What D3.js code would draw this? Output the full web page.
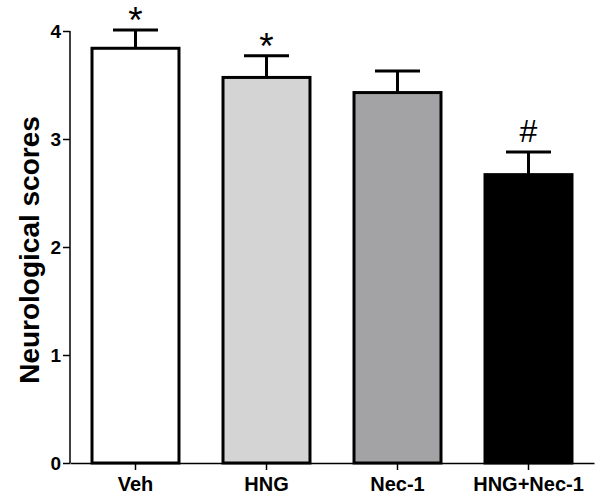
<!DOCTYPE html>
<html><head><meta charset="utf-8">
<script src="https://cdn.jsdelivr.net/npm/d3@7"></script>
<style>body{margin:0;background:#fff}svg{display:block}</style>
</head><body>
<svg id="c" width="602" height="500"></svg>
<script>
const categories = ["Veh", "HNG", "Nec-1", "HNG+Nec-1"];
const means = [3.84, 3.57, 3.43, 2.67];
const sems = [0.17, 0.20, 0.20, 0.21];
const marks = ["*", "*", "", "#"];
const fills = ["#ffffff", "#d4d4d4", "#a3a3a6", "#000000"];
const yTicks = [0, 1, 2, 3, 4];

const svg = d3.select("#c");
const x = d3.scaleBand().domain(categories).range([70, 594]).paddingInner(0.336).paddingOuter(0.168);
const y = d3.scaleLinear().domain([0, 4]).range([463, 31]);

// bars
svg.selectAll("rect.bar").data(categories).join("rect")
  .attr("x", d => x(d)).attr("width", x.bandwidth())
  .attr("y", (d, i) => y(means[i])).attr("height", (d, i) => y(0) - y(means[i]))
  .attr("fill", (d, i) => fills[i]).attr("stroke", "#000").attr("stroke-width", 3);

// error bars
const cx = d => x(d) + x.bandwidth() / 2;
svg.selectAll("line.err").data(categories).join("line")
  .attr("x1", cx).attr("x2", cx)
  .attr("y1", (d, i) => y(means[i])).attr("y2", (d, i) => y(means[i] + sems[i]))
  .attr("stroke", "#000").attr("stroke-width", 3);
svg.selectAll("line.cap").data(categories).join("line")
  .attr("x1", d => cx(d) - 22.5).attr("x2", d => cx(d) + 22.5)
  .attr("y1", (d, i) => y(means[i] + sems[i])).attr("y2", (d, i) => y(means[i] + sems[i]))
  .attr("stroke", "#000").attr("stroke-width", 3);

// significance marks
svg.selectAll("text.mark").data(categories).join("text")
  .attr("x", cx)
  .attr("y", (d, i) => y(means[i] + sems[i]) + (marks[i] === "*" ? 3 : -10))
  .attr("text-anchor", "middle")
  .attr("font-family", "Liberation Sans, Arial, sans-serif")
  .attr("font-size", (d, i) => marks[i] === "*" ? 37 : 32)
  .text((d, i) => marks[i]);

// axes
const yAxis = svg.append("g").attr("transform", "translate(70,0)")
  .call(d3.axisLeft(y).tickValues(yTicks).tickFormat(d3.format("d")).tickSize(7).tickPadding(2));
const xAxis = svg.append("g").attr("transform", "translate(0,463)")
  .call(d3.axisBottom(x).tickSize(7).tickSizeOuter(0).tickPadding(6));
[yAxis, xAxis].forEach(g => {
  g.select(".domain").attr("stroke", "#000").attr("stroke-width", 1.5);
  g.selectAll(".tick line").attr("stroke", "#000").attr("stroke-width", 1.5);
  g.selectAll("text").attr("fill", "#000").attr("font-family", "Liberation Sans, Arial, sans-serif").attr("font-weight", "bold");
});
yAxis.select(".domain").attr("d", "M0,463V31");
yAxis.selectAll("text").attr("font-size", 19).attr("dy", "0.36em");
xAxis.selectAll("text").attr("font-size", 20).attr("dy", "0.75em");

svg.append("text")
  .attr("transform", "translate(39,250) rotate(-90)")
  .attr("text-anchor", "middle")
  .attr("font-family", "Liberation Sans, Arial, sans-serif")
  .attr("font-weight", "bold").attr("font-size", 28)
  .text("Neurological scores");
</script>
</body></html>
